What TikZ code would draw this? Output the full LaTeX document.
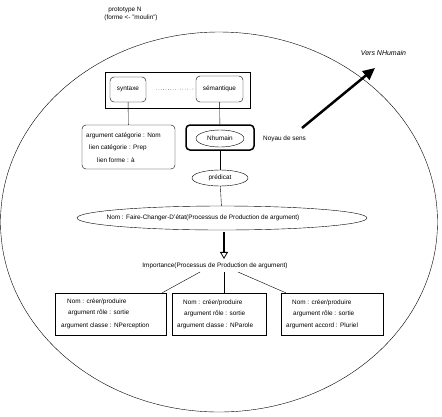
\documentclass[tikz,border=0pt]{standalone}
\usepackage{fontspec}
\setmainfont{Liberation Sans}
\usetikzlibrary{positioning}
\usetikzlibrary{arrows.meta}
\usetikzlibrary{calc}
\usetikzlibrary{shapes.geometric}

\begin{document}
\begin{tikzpicture}[x=1pt, y=-1pt, font=\fontsize{6.4}{7.5}\selectfont,
  rbox/.style={draw, rounded corners=4pt, inner sep=0pt},
  sbox/.style={draw, inner sep=0pt},
  oval/.style={draw, ellipse, inner sep=0pt},
  txt/.style={anchor=west, inner sep=0pt}]

\useasboundingbox (0,0) rectangle (442,416);

\draw (219,222) ellipse [x radius=218.5, y radius=190];

\node (title) at (125,10) {prototype N};
\node (forme) at (131,18) {(forme <- \symbol{34}moulin\symbol{34})};

% cadre syntaxe / semantique
\node [sbox, minimum width=145pt, minimum height=36pt] (cadre) at (177.5,90) {};
\node [rbox, minimum width=36pt, minimum height=25pt] (syn) at (128,89.5) {syntaxe};
\node [rbox, minimum width=47pt, minimum height=26pt] (sem) at (219.5,89) {sémantique};
\draw [dotted] ([xshift=10pt]syn.east) -- (sem.west);

\node [rbox, minimum width=93pt, minimum height=44pt] (arg) at (128.5,147) {};
\node [txt] (arg1) at (86,136) {argument catégorie : Nom};
\node [txt] (arg2) at (89,148) {lien catégorie : Prep};
\node [txt] (arg3) at (97,160) {lien forme : à};

\node [rbox, line width=1.5pt, minimum width=68pt, minimum height=25pt] (noyau) at (220,137.5) {};
\node [oval, minimum width=48pt, minimum height=17pt] (nhum) at (220,138.5) {Nhumain};
\node [txt] (sens) at (263,139) {Noyau de sens};

\node [oval, minimum width=56pt, minimum height=16pt] (pred) at (220,178) {prédicat};
\node [oval, minimum width=290pt, minimum height=24pt] (faire) at (222,218) {};
\node (fairetxt) at (203,218) {Nom : Faire-Changer-D'état(Processus de Production de argument)};

\node (imp) at (215,265.5) {Importance(Processus de Production de argument)};

\draw (syn) -- (arg);
\draw (sem) -- (noyau);
\draw (noyau) -- (pred);
\draw (pred) -- (faire);
\draw [line width=1.5pt, -{Triangle[open, line width=0.8pt, length=7pt, width=8pt]}] ([xshift=2pt, yshift=-2pt]faire.south) -- ([xshift=9pt]imp.north);

% les trois productions
\node [sbox, minimum width=111pt, minimum height=42pt] (prod1) at (110.5,314) {};
\node [sbox, minimum width=94pt, minimum height=42pt] (prod2) at (219,314) {};
\node [sbox, minimum width=102pt, minimum height=42pt] (prod3) at (332,314) {};

\node [txt] at (67,302) {Nom : créer/produire};
\node [txt] at (68,313) {argument rôle : sortie};
\node [txt] at (61,326) {argument classe : NPerception};

\node [txt] at (183,303) {Nom : créer/produire};
\node [txt] at (184,314) {argument rôle : sortie};
\node [txt] at (177,326) {argument classe : NParole};

\node [txt] at (292,303) {Nom : créer/produire};
\node [txt] at (293,314) {argument rôle : sortie};
\node [txt] at (286,326) {argument accord : Pluriel};

\draw ([xshift=-15pt]imp.south) -- ([xshift=-4pt]prod1.north east);
\draw ([xshift=9pt]imp.south) -- ([xshift=5pt]prod2.north);
\draw ([xshift=23pt]imp.south) -- ([xshift=5pt]prod3.north west);

% vers NHumain
\coordinate (depart) at (302,128);
\coordinate (fin) at (375,68);
\draw [line width=2.5pt, -{Triangle[length=12pt, width=11pt]}] (depart) -- (fin);
\node [font=\fontsize{7}{8}\selectfont\itshape] (vers) at (383.5,53) {Vers NHumain};

\end{tikzpicture}
\end{document}
